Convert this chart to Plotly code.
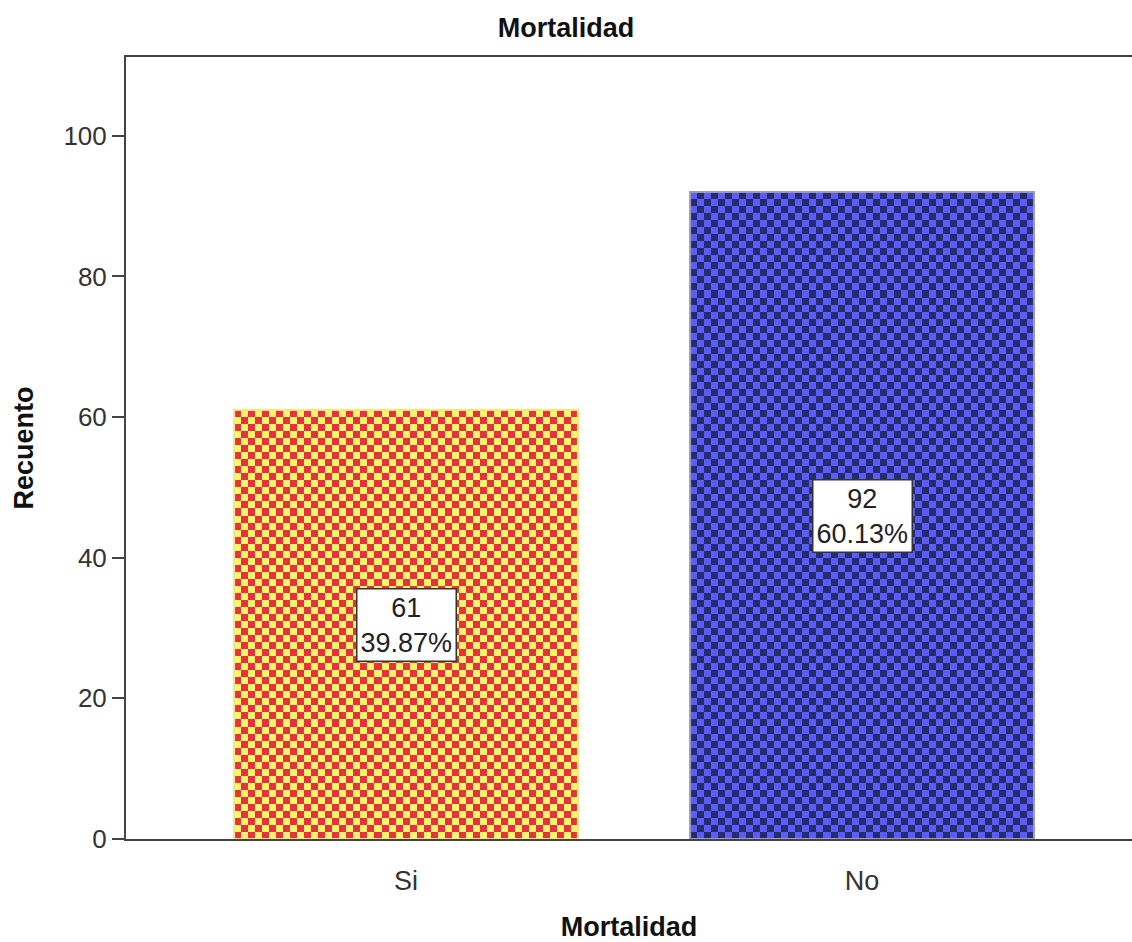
import numpy as np
import plotly.graph_objects as go

# Counts per category
categories = ["Si", "No"]
counts = [61, 92]

# Checkerboard colours for each bar (dark square, light square) and outline colour
check_dark = ["#e8313c", "#262a6e"]
check_light = ["#fbf56c", "#5a5df6"]
outline = ["#f4e87a", "#9a9ab4"]

y_ticks = [0, 20, 40, 60, 80, 100]

BAR_WIDTH = 0.754
Y_MAX = 111.2
X_RANGE = [-0.614, 1.592]
CELL_Y = 1.0          # checker square height in data units
CELL_X = 0.01542      # checker square width in x units (matches square pixels)

FONT = "Liberation Sans, Arial"
total = sum(counts)
fig = go.Figure()

# Checkerboard fill for every bar, built from its count
for i, v in enumerate(counts):
    ncols = int(round(BAR_WIDTH / CELL_X))
    nrows = max(1, int(round(v / CELL_Y)))
    x_edges = np.linspace(i - BAR_WIDTH / 2, i + BAR_WIDTH / 2, ncols + 1)
    y_edges = np.linspace(0, v, nrows + 1)
    rr, cc = np.meshgrid(np.arange(nrows), np.arange(ncols), indexing="ij")
    z = ((rr + cc) % 2).astype(float)
    fig.add_trace(go.Heatmap(
        x=x_edges, y=y_edges, z=z,
        zmin=0, zmax=1, zsmooth=False,
        colorscale=[[0, check_dark[i]], [1, check_light[i]]],
        showscale=False, hoverinfo="skip",
    ))

# Bar outlines on top of the fill
fig.add_trace(go.Bar(
    x=list(range(len(categories))), y=counts, width=BAR_WIDTH,
    marker=dict(color="rgba(0,0,0,0)", line=dict(color=outline, width=2)),
    hoverinfo="skip", showlegend=False,
))

# Count / percentage labels centred in each bar
for i, v in enumerate(counts):
    fig.add_annotation(
        x=i, y=v / 2, xref="x", yref="y",
        text=f"{v}<br>{v / total * 100:.2f}%",
        showarrow=False,
        font=dict(family=FONT, size=27, color="#222222"),
        bgcolor="white", bordercolor="#333333", borderwidth=1.5, borderpad=3,
    )

fig.update_layout(
    width=1132, height=942,
    margin=dict(l=126, r=0, t=57, b=103),
    paper_bgcolor="white", plot_bgcolor="white",
    showlegend=False,
    font=dict(family=FONT, color="#333333"),
    title=dict(
        text="<b>Mortalidad</b>", x=0.5, xanchor="center",
        y=0.971, yanchor="middle",
        font=dict(size=27, color="#111111"),
    ),
    xaxis=dict(
        range=X_RANGE,
        tickmode="array", tickvals=list(range(len(categories))), ticktext=categories,
        ticks="", showgrid=False, zeroline=False,
        showline=True, linecolor="#444444", linewidth=2, mirror=True,
        ticklabelstandoff=17,
        tickfont=dict(size=27, color="#333333"),
        title=dict(text="<b>Mortalidad</b>", standoff=22,
                   font=dict(size=27, color="#111111")),
    ),
    yaxis=dict(
        range=[0, Y_MAX],
        tickmode="array", tickvals=y_ticks,
        ticks="outside", ticklen=12, tickwidth=2, tickcolor="#444444",
        showgrid=False, zeroline=False,
        showline=True, linecolor="#444444", linewidth=2,
        tickfont=dict(size=26, color="#333333"),
        title=dict(text="<b>Recuento</b>", standoff=22,
                   font=dict(size=27, color="#111111")),
    ),
)

fig.write_html("out.html")
